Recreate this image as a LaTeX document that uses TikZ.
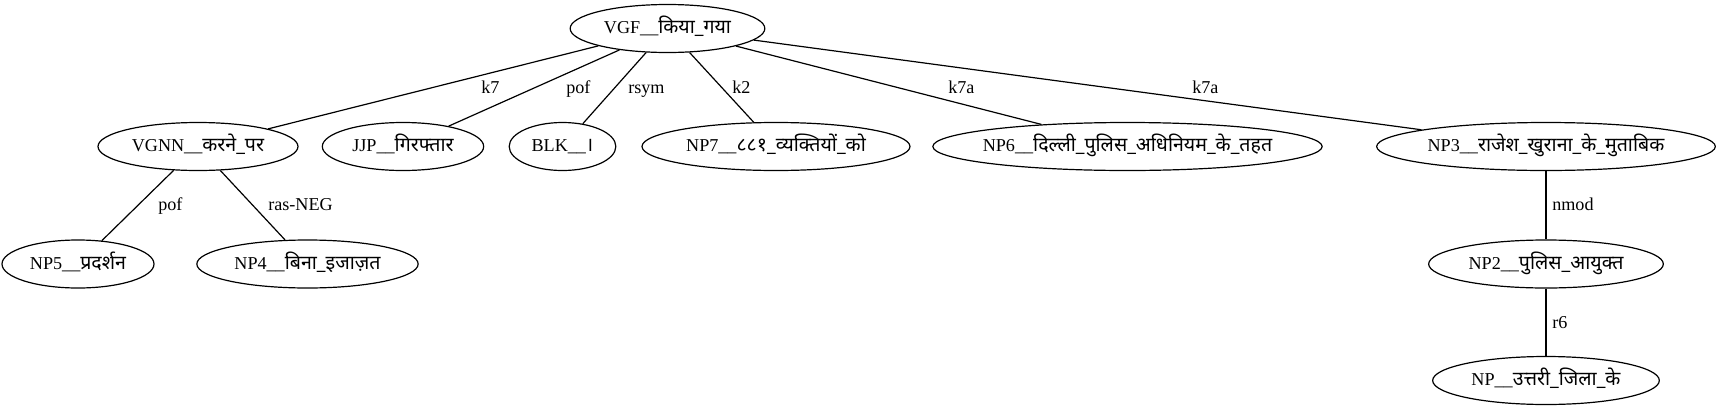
\documentclass[tikz,border=0pt]{standalone}
\usepackage{fontspec}
\setmainfont{Liberation Serif}
\newfontfamily\deva[Script=Devanagari,Scale=1.08]{Noto Sans}
\usetikzlibrary{shapes}

\begin{document}
\begin{tikzpicture}
[-,x=0.75pt,y=-0.75pt,%
  lineDecorate/.style={-,line width=0.9pt},%
  nodeDecorate/.style={shape=ellipse,draw,line width=0.9pt,inner sep=0pt,minimum height=36pt,%
    text height=10.8pt,text depth=3pt,%
    execute at begin node={\hbox to 0pt\bgroup\hss},execute at end node={\hss\egroup}},%
  labelDecorate/.style={anchor=base west,inner sep=0pt}]
\fontsize{13.6pt}{16pt}\selectfont
\useasboundingbox (0,0) rectangle (1721,411);
%% nodes
\node[nodeDecorate,minimum width=146pt] (vgf) at (667.5,28.5) {VGF\_\_{\deva किया\_गया}};
\node[nodeDecorate,minimum width=150pt] (vgnn) at (198,146.5) {VGNN\_\_{\deva करने\_पर}};
\node[nodeDecorate,minimum width=121pt] (jjp) at (403,146.5) {JJP\_\_{\deva गिरफ्तार}};
\node[nodeDecorate,minimum width=80pt] (blk) at (562.5,146.5) {BLK\_\_{\deva ।}};
\node[nodeDecorate,minimum width=201pt] (np7) at (776,146.5) {NP7\_\_{\deva ८८१\_व्यक्तियों\_को}};
\node[nodeDecorate,minimum width=292pt] (np6) at (1127.5,146.5) {NP6\_\_{\deva दिल्ली\_पुलिस\_अधिनियम\_के\_तहत}};
\node[nodeDecorate,minimum width=254pt] (np3) at (1546,146.5) {NP3\_\_{\deva राजेश\_खुराना\_के\_मुताबिक}};
\node[nodeDecorate,minimum width=114pt] (np5) at (78,264) {NP5\_\_{\deva प्रदर्शन}};
\node[nodeDecorate,minimum width=166pt] (np4) at (307.5,264) {NP4\_\_{\deva बिना\_इजाज़त}};
\node[nodeDecorate,minimum width=176pt] (np2) at (1546,264) {NP2\_\_{\deva पुलिस\_आयुक्त}};
\node[nodeDecorate,minimum width=170pt] (np) at (1546,380.5) {NP\_\_{\deva उत्तरी\_जिला\_के}};
%% edges and their labels
\foreach \from/\to/\lab/\x/\y in {
  vgf/vgnn/k7/481/93, vgf/jjp/pof/566/93, vgf/blk/rsym/628/93,
  vgf/np7/k2/732/93, vgf/np6/k7a/948/93, vgf/np3/k7a/1192/93,
  vgnn/np5/pof/158/210, vgnn/np4/ras-NEG/268/210,
  np3/np2/nmod/1552/210, np2/np/r6/1552/328}
{
  \path (\from) edge[lineDecorate] (\to);
  \node[labelDecorate] (\to-lbl) at (\x,\y) {\lab};
}
\end{tikzpicture}
\end{document}
